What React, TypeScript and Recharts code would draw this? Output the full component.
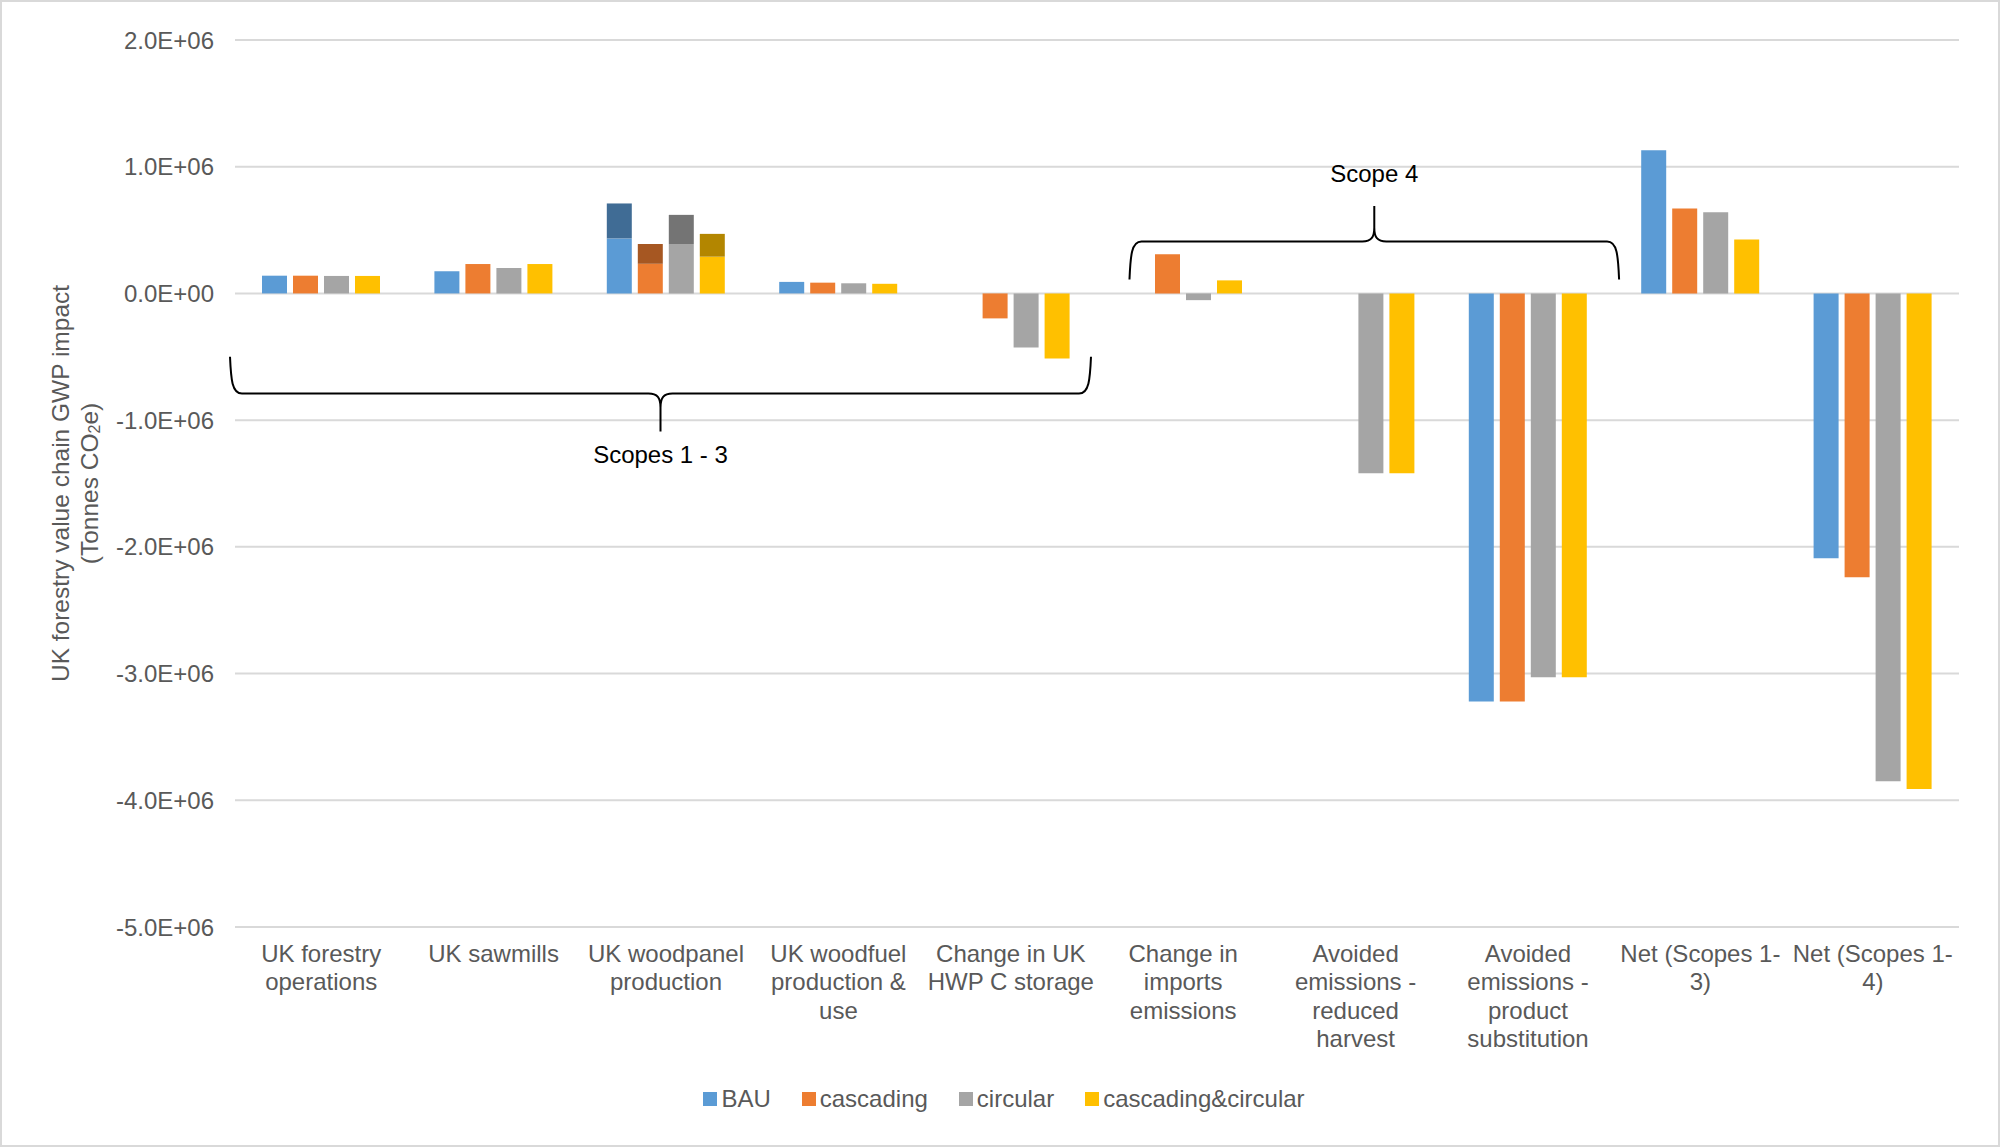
import React from "react";
import { BarChart, Bar, XAxis, YAxis, CartesianGrid, Legend } from "recharts";

// ---------- data ----------
const categories = [
  "UK forestry operations",
  "UK sawmills",
  "UK woodpanel production",
  "UK woodfuel production & use",
  "Change in UK HWP C storage",
  "Change in imports emissions",
  "Avoided emissions - reduced harvest",
  "Avoided emissions - product substitution",
  "Net (Scopes 1-3)",
  "Net (Scopes 1-4)",
];

const categoryLabelLines = [
  ["UK forestry", "operations"],
  ["UK sawmills"],
  ["UK woodpanel", "production"],
  ["UK woodfuel", "production &", "use"],
  ["Change in UK", "HWP C storage"],
  ["Change in", "imports", "emissions"],
  ["Avoided", "emissions -", "reduced", "harvest"],
  ["Avoided", "emissions -", "product", "substitution"],
  ["Net (Scopes 1-", "3)"],
  ["Net (Scopes 1-", "4)"],
];

const bau = [140000, 175000, 434000, 91000, 0, 0, 0, -3220000, 1130000, -2090000];
const cascading = [140000, 232000, 234000, 85000, -197000, 310000, 0, -3220000, 670000, -2240000];
const circular = [138000, 200000, 390000, 80000, -426000, -53000, -1420000, -3030000, 640000, -3850000];
const cascadingCircular = [138000, 232000, 290000, 76000, -513000, 103000, -1420000, -3030000, 426000, -3910000];

// darker upper segments (woodpanel production only)
const bauUpper = [0, 0, 276000, 0, 0, 0, 0, 0, 0, 0];
const cascadingUpper = [0, 0, 156000, 0, 0, 0, 0, 0, 0, 0];
const circularUpper = [0, 0, 230000, 0, 0, 0, 0, 0, 0, 0];
const cascadingCircularUpper = [0, 0, 180000, 0, 0, 0, 0, 0, 0, 0];

const yTicks = [2000000, 1000000, 0, -1000000, -2000000, -3000000, -4000000, -5000000];
const Y_MIN = -5000000;
const Y_MAX = 2000000;

const seriesNames = ["BAU", "cascading", "circular", "cascading&circular"];
const seriesColors = ["#5B9BD5", "#ED7D31", "#A5A5A5", "#FFC000"];
const upperColors = ["#406C95", "#A65722", "#747474", "#B38600"];

const data = categories.map((c, i) => ({
  category: c,
  bau: bau[i],
  cascading: cascading[i],
  circular: circular[i],
  cascadingCircular: cascadingCircular[i],
  bauUpper: bauUpper[i],
  cascadingUpper: cascadingUpper[i],
  circularUpper: circularUpper[i],
  cascadingCircularUpper: cascadingCircularUpper[i],
}));

// ---------- layout ----------
const W = 2000;
const H = 1147;
const MARGIN = { top: 40, right: 41, left: 0, bottom: 70 };
const Y_AXIS_W = 235;
const X_AXIS_H = 150;
const PLOT = {
  left: MARGIN.left + Y_AXIS_W,
  right: W - MARGIN.right,
  top: MARGIN.top,
  bottom: H - MARGIN.bottom - X_AXIS_H,
};
const BAND = (PLOT.right - PLOT.left) / categories.length;
const yOf = (v: number) => PLOT.top + ((Y_MAX - v) / (Y_MAX - Y_MIN)) * (PLOT.bottom - PLOT.top);
const xOf = (bandPos: number) => PLOT.left + bandPos * BAND;

const FONT = "'Liberation Sans', Arial, Helvetica, sans-serif";
const TEXT = "#595959";

const fmt = (v: number) => {
  if (v === 0) return "0.0E+00";
  const m = v / 1e6;
  return `${m.toFixed(1)}E+06`;
};

const XTick = (props: any) => {
  const { x, y, payload } = props;
  const idx = categories.indexOf(payload.value);
  const lines = idx >= 0 ? categoryLabelLines[idx] : [String(payload.value)];
  return (
    <text x={x} y={y} textAnchor="middle" fill={TEXT} fontSize={24} fontFamily={FONT}>
      {lines.map((l, i) => (
        <tspan key={i} x={x} dy={i === 0 ? 35 : 28.4}>
          {l}
        </tspan>
      ))}
    </text>
  );
};

const YTitle = (props: any) => {
  const vb = props.viewBox || { x: 0, y: PLOT.top, width: Y_AXIS_W, height: PLOT.bottom - PLOT.top };
  const cy = vb.y + vb.height / 2;
  const x1 = vb.x + 60;
  const x2 = vb.x + 89;
  return (
    <g fill={TEXT} fontSize={24.5} fontFamily={FONT}>
      <text x={x1} y={cy} transform={`rotate(-90 ${x1} ${cy})`} textAnchor="middle" dominantBaseline="central">
        UK forestry value chain GWP impact
      </text>
      <text x={x2} y={cy} transform={`rotate(-90 ${x2} ${cy})`} textAnchor="middle" dominantBaseline="central">
        (Tonnes CO
        <tspan fontSize={16} dy={5}>
          2
        </tspan>
        <tspan dy={-5}>e)</tspan>
      </text>
    </g>
  );
};

const LegendContent = () => (
  <div
    style={{
      display: "flex",
      justifyContent: "center",
      alignItems: "center",
      height: 30,
      fontFamily: FONT,
      fontSize: 24,
      color: TEXT,
    }}
  >
    {seriesNames.map((n, i) => (
      <div key={n} style={{ display: "flex", alignItems: "center", marginRight: i < seriesNames.length - 1 ? 31 : 0 }}>
        <span style={{ display: "inline-block", width: 14, height: 14, background: seriesColors[i], marginRight: 4 }} />
        <span style={{ lineHeight: "30px", whiteSpace: "nowrap" }}>{n}</span>
      </div>
    ))}
  </div>
);

// curly brace path; points down when yTip > yMid, up otherwise
const bracePath = (L: number, R: number, yEnd: number, yMid: number, yTip: number) => {
  const s = yTip > yMid ? 1 : -1;
  const cx = (L + R) / 2;
  const r = 12;
  return [
    `M ${L} ${yEnd}`,
    `C ${L + 1} ${yMid - s * 14} ${L + 2} ${yMid} ${L + r} ${yMid}`,
    `L ${cx - r} ${yMid}`,
    `C ${cx - 3} ${yMid} ${cx} ${yMid + s * 4} ${cx} ${yMid + s * 14}`,
    `L ${cx} ${yTip}`,
    `M ${cx} ${yMid + s * 14}`,
    `C ${cx} ${yMid + s * 4} ${cx + 3} ${yMid} ${cx + r} ${yMid}`,
    `L ${R - r} ${yMid}`,
    `C ${R - 2} ${yMid} ${R - 1} ${yMid - s * 14} ${R} ${yEnd}`,
  ].join(" ");
};

const Annotations = () => {
  const b1 = { L: PLOT.left - 5, R: xOf(5) - 6, yEnd: yOf(-500000), yMid: yOf(-790000), yTip: yOf(-1090000) };
  const b2 = { L: xOf(5.2) - 2, R: xOf(8.04) - 2, yEnd: yOf(110000), yMid: yOf(410000), yTip: yOf(690000) };
  return (
    <svg
      width={W}
      height={H}
      style={{ position: "absolute", left: 0, top: 0, pointerEvents: "none" }}
    >
      <path d={bracePath(b1.L, b1.R, b1.yEnd, b1.yMid, b1.yTip)} stroke="#000" strokeWidth={2} fill="none" />
      <text
        x={(b1.L + b1.R) / 2}
        y={yOf(-1270000)}
        textAnchor="middle"
        dominantBaseline="central"
        fontSize={24}
        fontFamily={FONT}
        fill="#000"
      >
        Scopes 1 - 3
      </text>
      <path d={bracePath(b2.L, b2.R, b2.yEnd, b2.yMid, b2.yTip)} stroke="#000" strokeWidth={2} fill="none" />
      <text
        x={(b2.L + b2.R) / 2}
        y={yOf(950000)}
        textAnchor="middle"
        dominantBaseline="central"
        fontSize={24}
        fontFamily={FONT}
        fill="#000"
      >
        Scope 4
      </text>
    </svg>
  );
};

const mainKeys = ["bau", "cascading", "circular", "cascadingCircular"];
const upperKeys = ["bauUpper", "cascadingUpper", "circularUpper", "cascadingCircularUpper"];

export default function App() {
  return (
    <div
      style={{
        position: "absolute",
        left: 0,
        top: 0,
        width: W,
        height: H,
        background: "#fff",
        overflow: "hidden",
      }}
    >
      <BarChart width={W} height={H} data={data} margin={MARGIN} barSize={25} barGap={6}>
        <CartesianGrid vertical={false} stroke="#D9D9D9" strokeWidth={2} />
        <XAxis
          dataKey="category"
          type="category"
          axisLine={false}
          tickLine={false}
          tickSize={0}
          tickMargin={0}
          interval={0}
          height={X_AXIS_H}
          tick={<XTick />}
        />
        <YAxis
          type="number"
          domain={[Y_MIN, Y_MAX]}
          ticks={yTicks}
          width={Y_AXIS_W}
          axisLine={false}
          tickLine={false}
          tickSize={0}
          tickMargin={21}
          tickFormatter={fmt}
          tick={{ fill: TEXT, fontSize: 24, fontFamily: FONT }}
          label={(p: any) => <YTitle {...p} />}
          interval={0}
        />
        {mainKeys.map((k, i) => (
          <Bar
            key={k}
            dataKey={k}
            name={seriesNames[i]}
            stackId={"s" + i}
            fill={seriesColors[i]}
            isAnimationActive={false}
          />
        ))}
        {upperKeys.map((k, i) => (
          <Bar
            key={k}
            dataKey={k}
            name={seriesNames[i] + " (upper)"}
            stackId={"s" + i}
            fill={upperColors[i]}
            legendType="none"
            isAnimationActive={false}
          />
        ))}
        <Legend
          layout="vertical"
          align="center"
          verticalAlign="middle"
          content={<LegendContent />}
          wrapperStyle={{ left: 0, top: 1084, width: 2008, height: 30 }}
        />
      </BarChart>
      <Annotations />
      <div
        style={{
          position: "absolute",
          left: 0,
          top: 0,
          width: W,
          height: H,
          boxSizing: "border-box",
          border: "2px solid #D9D9D9",
          pointerEvents: "none",
        }}
      />
    </div>
  );
}
